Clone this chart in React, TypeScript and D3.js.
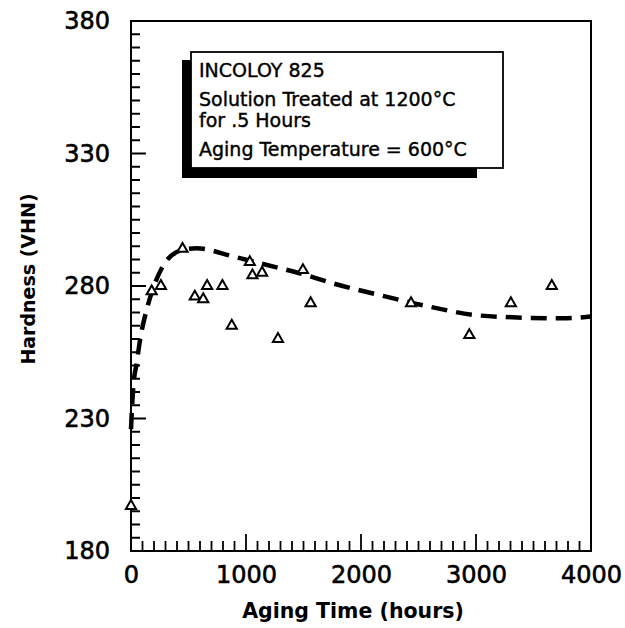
import { useEffect, useRef } from 'react';
import * as d3 from 'd3';

// measured hardness points (open triangles)
const obsHours = [0, 180, 260, 448, 555, 628, 662, 795, 876, 1033, 1056, 1140, 1278, 1495, 1562, 2435, 2942, 3303, 3659];
const obsHardness = [197, 278, 280, 294, 276, 275, 280, 280, 265, 289, 284, 285, 260, 286, 273.5, 273.5, 261.5, 273.5, 280];

// trend curve (dashed)
const fitHours = [0, 10, 20, 50, 80, 136, 200, 300, 450, 570, 885, 1120, 1466, 1756, 2218, 2594, 3000, 3317, 3751, 4000];
const fitHardness = [226, 235, 242, 251, 260, 271, 280, 289, 293.6, 294.2, 291.2, 288.6, 284.8, 281, 276, 272.2, 269, 268.2, 267.8, 268.5];

const yMajorTicks = [180, 230, 280, 330, 380];
const xMajorTicks = [0, 1000, 2000, 3000, 4000];

const noteLines = [
  'INCOLOY 825',
  'Solution Treated at 1200°C',
  'for .5 Hours',
  'Aging Temperature = 600°C',
];

export default function App() {
  const svgRef = useRef<SVGSVGElement>(null);

  useEffect(() => {
    if (!svgRef.current) return;
    const svg = d3.select(svgRef.current);
    svg.selectAll('*').remove();

    const left = 131, right = 591, top = 21, bottom = 551;
    const font = '"DejaVu Sans", sans-serif';

    const x = d3.scaleLinear().domain([0, 4000]).range([left, right]);
    const y = d3.scaleLinear().domain([180, 380]).range([bottom, top]);

    svg.append('rect')
      .attr('width', 625).attr('height', 628).attr('fill', '#fff');

    // ticks, pointing into the plot
    const yTicks = d3.range(180, 381, 5);
    svg.append('g').selectAll('line')
      .data(yTicks)
      .join('line')
      .attr('x1', left)
      .attr('x2', d => left + (yMajorTicks.includes(d) ? 15 : 9))
      .attr('y1', d => y(d))
      .attr('y2', d => y(d))
      .attr('stroke', '#000')
      .attr('stroke-width', 2);
    const xTicks = d3.range(0, 4001, 100);
    svg.append('g').selectAll('line')
      .data(xTicks)
      .join('line')
      .attr('x1', d => x(d))
      .attr('x2', d => x(d))
      .attr('y1', bottom)
      .attr('y2', d => bottom - (xMajorTicks.includes(d) ? 17 : 10))
      .attr('stroke', '#000')
      .attr('stroke-width', 1.8);

    // tick labels
    const yAx = svg.append('g')
      .attr('transform', `translate(${left},0)`)
      .call(d3.axisLeft(y).tickValues(yMajorTicks).tickSize(0).tickPadding(21).tickFormat(d3.format('d')));
    yAx.select('.domain').remove();
    yAx.selectAll('text').attr('font-family', font).attr('font-size', 24)
      .attr('fill', '#000').attr('stroke', '#000').attr('stroke-width', 0.6);

    const xAx = svg.append('g')
      .attr('transform', `translate(0,${bottom})`)
      .call(d3.axisBottom(x).tickValues(xMajorTicks).tickSize(0).tickPadding(15).tickFormat(d3.format('d')));
    xAx.select('.domain').remove();
    xAx.selectAll('text').attr('font-family', font).attr('font-size', 24)
      .attr('fill', '#000').attr('stroke', '#000').attr('stroke-width', 0.6);

    // frame
    svg.append('rect')
      .attr('x', left).attr('y', top)
      .attr('width', right - left).attr('height', bottom - top)
      .attr('fill', 'none').attr('stroke', '#000').attr('stroke-width', 2);

    // note box with shadow
    svg.append('rect')
      .attr('x', 182).attr('y', 60).attr('width', 295).attr('height', 118).attr('fill', '#000');
    svg.append('rect')
      .attr('x', 191).attr('y', 52).attr('width', 312).attr('height', 116)
      .attr('fill', '#fff').attr('stroke', '#000').attr('stroke-width', 1.8);
    const baselines = [77, 106, 127, 156];
    svg.append('g').selectAll('text')
      .data(noteLines)
      .join('text')
      .attr('x', 199)
      .attr('y', (_, i) => baselines[i])
      .attr('font-family', font)
      .attr('font-size', 19)
      .attr('fill', '#000')
      .attr('stroke', '#000')
      .attr('stroke-width', 0.4)
      .text(d => d);

    // dashed trend curve
    const fit = fitHours.map((h, i) => [h, fitHardness[i]] as [number, number]);
    const line = d3.line<[number, number]>()
      .x(d => x(d[0]))
      .y(d => y(d[1]))
      .curve(d3.curveMonotoneX);
    svg.append('path')
      .datum(fit)
      .attr('d', line)
      .attr('fill', 'none')
      .attr('stroke', '#000')
      .attr('stroke-width', 4.5)
      .attr('stroke-dasharray', '16 9');

    // observed points
    const tri = d3.symbol().type(d3.symbolTriangle).size(45);
    svg.append('g').selectAll('path')
      .data(obsHours.map((h, i) => [h, obsHardness[i]]))
      .join('path')
      .attr('transform', d => `translate(${x(d[0])},${y(d[1])})`)
      .attr('d', tri)
      .attr('fill', '#fff')
      .attr('stroke', '#000')
      .attr('stroke-width', 2);

    // axis titles
    svg.append('text')
      .attr('x', 353).attr('y', 618)
      .attr('text-anchor', 'middle')
      .attr('font-family', font).attr('font-size', 20.5).attr('font-weight', 'bold')
      .text('Aging Time (hours)');
    svg.append('text')
      .attr('transform', 'translate(35,279) rotate(-90)')
      .attr('text-anchor', 'middle')
      .attr('font-family', font).attr('font-size', 19).attr('font-weight', 'bold')
      .text('Hardness (VHN)');
  }, []);

  return (
    <svg
      ref={svgRef}
      width={625}
      height={628}
      viewBox="0 0 625 628"
      style={{ position: 'absolute', left: 0, top: 0 }}
    />
  );
}
